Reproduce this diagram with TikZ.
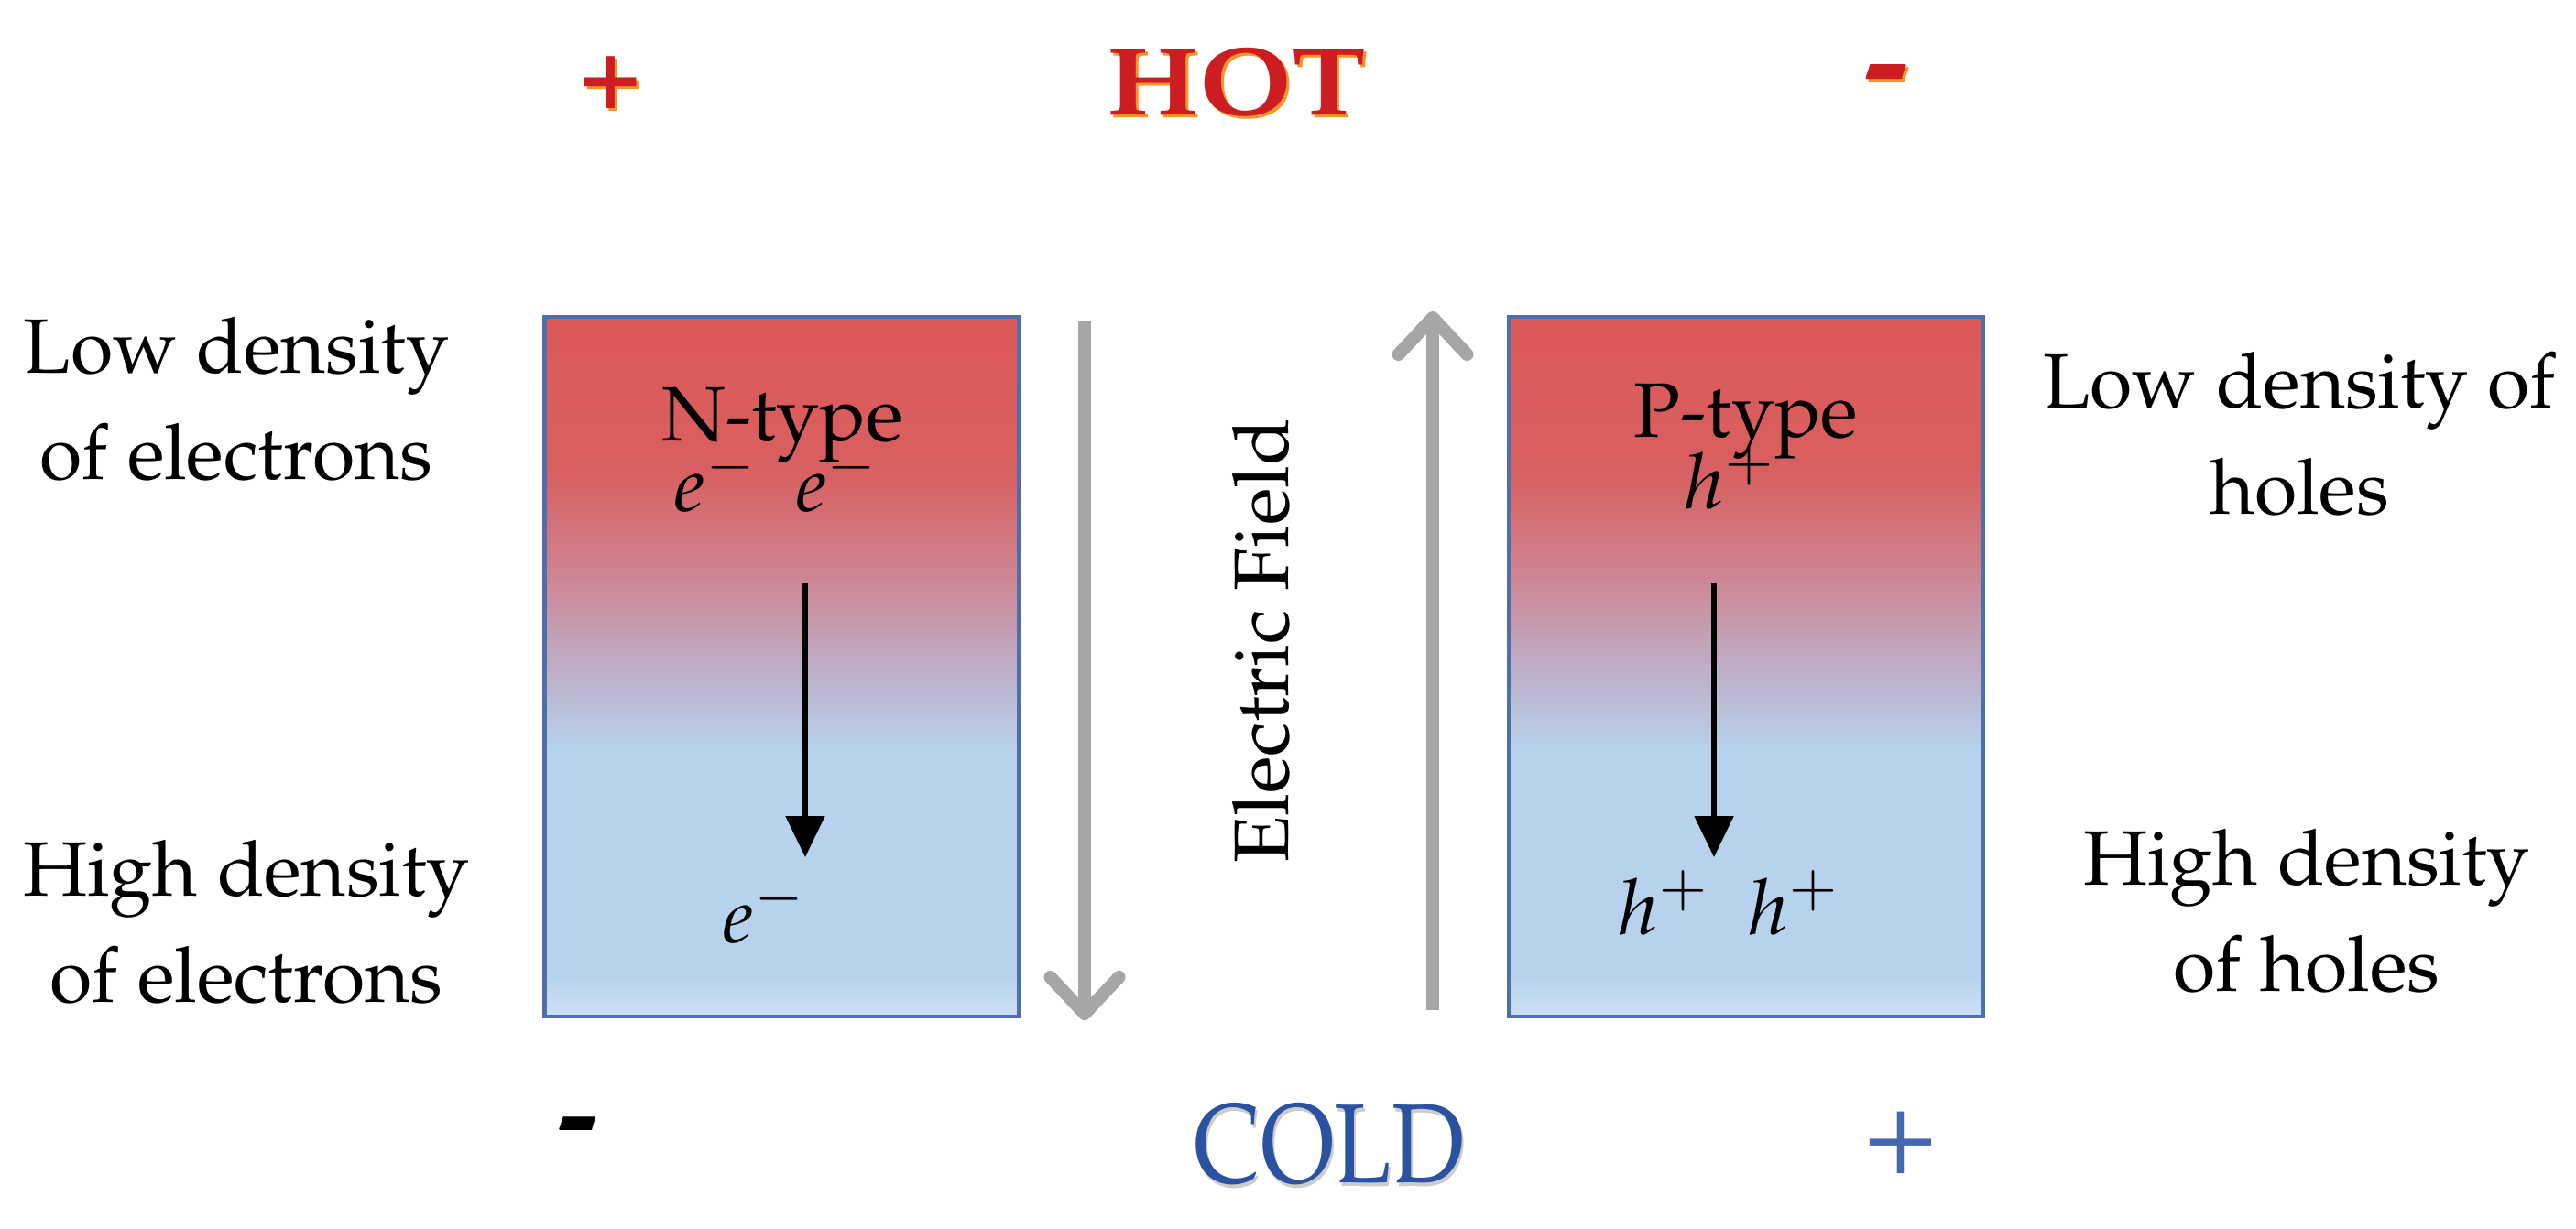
\documentclass[tikz,border=0pt]{standalone}
\usepackage[T1]{fontenc}
\usepackage{mathpazo}
\usetikzlibrary{arrows.meta}
\newcommand*{\cellwd}{5.18cm}
\newcommand*{\cellht}{7.64cm}
\newcommand*{\lblfont}{\fontsize{24}{33}\selectfont}
\definecolor{hotred}{RGB}{204,30,34}
\definecolor{glow}{RGB}{242,150,40}
\definecolor{coldblue}{RGB}{42,82,160}
\definecolor{plusblue}{RGB}{70,104,172}
\definecolor{edgeblue}{RGB}{80,110,170}
\definecolor{fieldgray}{RGB}{166,166,166}
\definecolor{cbot}{RGB}{204,224,243}
\definecolor{cblue}{RGB}{182,210,236}
\definecolor{cmauve}{RGB}{190,174,198}
\definecolor{cpink}{RGB}{206,132,146}
\definecolor{cred}{RGB}{216,96,96}
\definecolor{ctop}{RGB}{222,88,88}
\pgfdeclareverticalshading{thermo}{100bp}{color(0bp)=(cbot); color(25bp)=(cbot); color(28bp)=(cblue); color(44bp)=(cblue); color(50bp)=(cmauve); color(56.5bp)=(cpink); color(64bp)=(cred); color(75bp)=(ctop); color(100bp)=(ctop)}
\tikzset{
    cell/.style={draw=edgeblue, line width=1.2pt, shading=thermo, minimum width=\cellwd, minimum height=\cellht, inner sep=0pt},
    lbl/.style={font=\lblfont, align=center, inner sep=0pt},
    carrier/.style={lbl, anchor=base, text height=0.3cm, text depth=0pt},
    field/.style={draw=fieldgray, line width=4pt, -{Straight Barb[length=4mm,width=7.5mm,round]}},
    drift/.style={draw=black, line width=1.5pt, -{Triangle[length=4.5mm,width=4.2mm]}}
}

\begin{document}
\begin{tikzpicture}
    \useasboundingbox (0,0) rectangle (28.12,13.41);
    % hot side
    \node [text=glow, font=\fontsize{30}{32}\selectfont\bfseries] (hotglow) at (13.53,12.49) {\scalebox{1.15}[1]{HOT}};
    \node [text=hotred, font=\fontsize{30}{32}\selectfont\bfseries] (hot) at (13.50,12.52) {\scalebox{1.15}[1]{HOT}};
    \node [text=glow, font=\fontsize{32}{34}\selectfont\bfseries] (hplusglow) at (6.70,12.48) {+};
    \node [text=hotred, font=\fontsize{32}{34}\selectfont\bfseries] (hplus) at (6.67,12.51) {+};
    \node [text=glow, font=\fontsize{42}{44}\selectfont\bfseries] (hminusglow) at (20.62,12.44) {-};
    \node [text=hotred, font=\fontsize{42}{44}\selectfont\bfseries] (hminus) at (20.59,12.47) {-};
    % cold side
    \node [text=black!20, font=\fontsize{35}{36}\selectfont] (coldshadow) at (14.53,0.87) {\scalebox{0.83}[1]{COLD}};
    \node [text=coldblue, font=\fontsize{35}{36}\selectfont] (cold) at (14.51,0.91) {\scalebox{0.83}[1]{COLD}};
    \node [text=black, font=\fontsize{38}{40}\selectfont\bfseries] (cminus) at (6.31,1.0) {-};
    \node [text=plusblue, font=\fontsize{38}{40}\selectfont] (cplus) at (20.75,0.93) {+};
    % legs
    \node [cell] (nleg) at (8.535,6.13) {};
    \node [cell] (pleg) at (19.06,6.13) {};
    \node [lbl, anchor=base, text depth=0pt] (ntype) at (8.54,8.60) {N-type};
    \node [carrier] (etop) at (8.47,7.83) {$e^-$\enspace$e^-$};
    \node [lbl] (ebot) at (8.34,3.46) {$e^-$};
    \node [lbl, anchor=base, text depth=0pt] (ptype) at (19.06,8.64) {P-type};
    \node [carrier] (htop) at (18.88,7.86) {$h^+$};
    \node [lbl] (hbot) at (18.87,3.55) {$h^+$\enspace$h^+$};
    \coordinate (nstart) at (8.79,7.04);
    \coordinate (nend)   at (8.79,4.05);
    \coordinate (pstart) at (18.71,7.04);
    \coordinate (pend)   at (18.71,4.05);
    \draw [drift] (nstart) -- (nend);
    \draw [drift] (pstart) -- (pend);
    % field
    \coordinate (ftop) at (11.84,9.91);
    \coordinate (fbot) at (11.84,2.27);
    \coordinate (gbot) at (15.64,2.38);
    \coordinate (gtop) at (15.64,10.01);
    \draw [field] (ftop) -- (fbot);
    \draw [field] (gbot) -- (gtop);
    \node [lbl, rotate=90] (efield) at (13.77,6.41) {Electric Field};
    % side labels
    \node [lbl] (lowe)  at (2.58,9.05) {Low density\\of electrons};
    \node [lbl] (highe) at (2.69,3.34) {High density\\of electrons};
    \node [lbl] (lowh)  at (25.10,8.67) {Low density of\\holes};
    \node [lbl] (highh) at (25.18,3.46) {High density\\of holes};
\end{tikzpicture}
\end{document}
